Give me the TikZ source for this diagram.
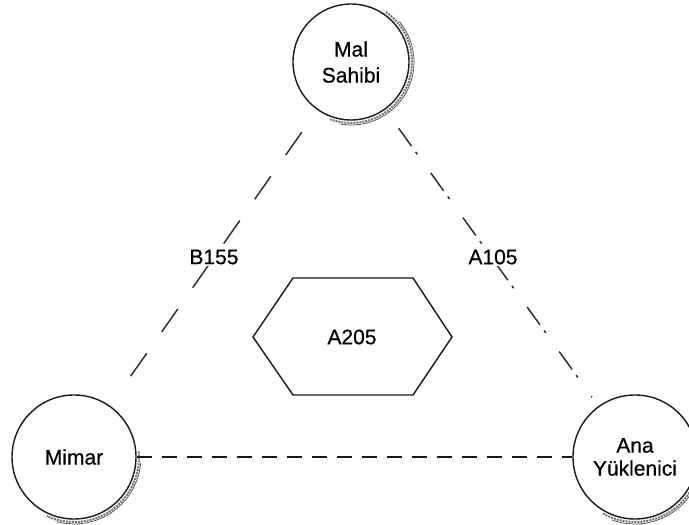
\documentclass[tikz,border=0pt]{standalone}
\usepackage{fontspec}
\setmainfont{Liberation Sans}[FakeBold=0.6]
\begin{document}
\begin{tikzpicture}[x=1pt,y=1pt,
  party/.style={circle,draw=black!90,line width=1.4pt,fill=white,align=center,
    font=\fontsize{21}{26}\selectfont,inner sep=0pt},
  shadowarc/.style={draw=black!55,line width=2pt,densely dotted},
  shadowarcb/.style={draw=black!70,line width=0.7pt},
  lbl/.style={fill=white,inner sep=2pt,font=\fontsize{21}{24}\selectfont},
  thinDash/.style={draw=black!85,line width=1.4pt,dash pattern=on 28pt off 26pt},
  dashDot/.style={draw=black!85,line width=1.4pt,dash pattern=on 22pt off 7pt on 3pt off 23pt},
  thickDash/.style={draw=black!90,line width=2.8pt,dash pattern=on 15pt off 10pt},
  hexa/.style={draw=black!90,line width=1.4pt}]
\useasboundingbox (0,0) rectangle (689,525);
\fill[white] (0,0) rectangle (689,525);
% shadows
\draw[shadowarc] (351,463) ++(55:61) arc[start angle=55,end angle=-110,radius=61];
\draw[shadowarcb] (351,463) ++(40:63) arc[start angle=40,end angle=-100,radius=63];
\draw[shadowarc] (74,68) ++(5:65) arc[start angle=5,end angle=-115,radius=65];
\draw[shadowarcb] (74,68) ++(-5:67) arc[start angle=-5,end angle=-105,radius=67];
\draw[shadowarc] (635,68) ++(-20:65) arc[start angle=-20,end angle=-120,radius=65];
\draw[shadowarcb] (635,68) ++(-30:67) arc[start angle=-30,end angle=-110,radius=67];
% parties
\node[party,minimum size=116pt] (mal) at (351,463) {Mal\\Sahibi};
\node[party,minimum size=124pt] (mimar) at (74,68) {Mimar};
\node[party,minimum size=124pt] (ana) at (635,68) {Ana\\[-3pt]Yüklenici};
% connectors
\draw[thinDash,shorten <=27pt,shorten >=22pt] (mal) -- (mimar);
\draw[dashDot,shorten <=23pt,shorten >=11pt] (mal) -- (ana);
\draw[thickDash] (mimar) -- (ana);
% labels
\node[lbl] (b155) at (214,268) {B155};
\node[lbl] (a105) at (493,268) {A105};
% hexagon
\draw[hexa] (253,188) -- (293,247) -- (413,247) -- (452,188) -- (413,130) -- (293,130) -- cycle;
\node[font=\fontsize{21}{24}\selectfont] (a205) at (352,188) {A205};
\end{tikzpicture}
\end{document}
